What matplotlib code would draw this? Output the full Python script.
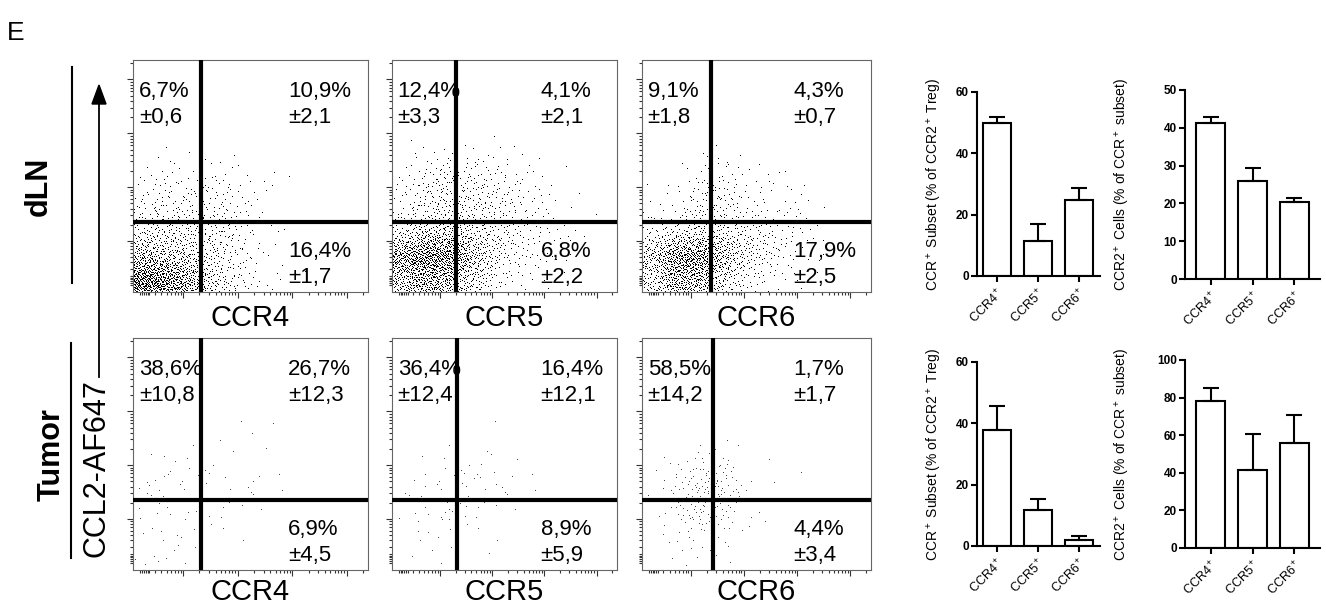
"""
Panel E: CCL2-AF647 binding vs CCR4/CCR5/CCR6 on Treg (dLN and tumor),
plus bar charts of the CCR+ subsets.
"""
import matplotlib
matplotlib.use('Agg')
import matplotlib.pyplot as plt
import numpy as np
from matplotlib.patches import Polygon

plt.rcParams['font.family'] = ['Liberation Sans', 'DejaVu Sans']
plt.rcParams['mathtext.default'] = 'regular'

FIG_W, FIG_H = 1326, 616

# --- flow data: dot counts per 0.1 x 0.1 cell (rows top -> bottom) ---
MARKERS = ["CCR4", "CCR5", "CCR6"]

DLN_CCR4_DOTS = [
    [0, 0, 0, 0, 0, 0, 0, 0, 0, 0],
    [0, 0, 0, 0, 0, 0, 0, 0, 0, 0],
    [0, 0, 0, 0, 0, 0, 0, 0, 0, 0],
    [0, 0, 0, 0, 0, 0, 0, 0, 0, 0],
    [2, 3, 4, 3, 2, 1, 0, 0, 0, 0],
    [10, 14, 16, 14, 9, 3, 1, 0, 0, 0],
    [22, 26, 26, 22, 14, 4, 1, 0, 0, 0],
    [45, 48, 42, 36, 16, 4, 1, 0, 0, 0],
    [120, 100, 70, 45, 18, 5, 2, 1, 0, 0],
    [300, 230, 130, 60, 20, 5, 1, 0, 0, 0],
]
DLN_CCR5_DOTS = [
    [0, 0, 0, 0, 0, 0, 0, 0, 0, 0],
    [0, 0, 0, 0, 0, 0, 0, 0, 0, 0],
    [0, 0, 0, 0, 0, 0, 0, 0, 0, 0],
    [0, 1, 1, 2, 1, 0, 0, 0, 0, 0],
    [3, 8, 14, 14, 8, 5, 2, 1, 0, 0],
    [10, 28, 40, 30, 22, 14, 6, 2, 1, 0],
    [14, 30, 40, 34, 26, 16, 10, 4, 1, 0],
    [45, 80, 85, 60, 36, 22, 14, 8, 2, 0],
    [180, 250, 230, 110, 45, 20, 10, 4, 0, 0],
    [110, 150, 130, 60, 20, 6, 2, 1, 0, 0],
]
DLN_CCR6_DOTS = [
    [0, 0, 0, 0, 0, 0, 0, 0, 0, 0],
    [0, 0, 0, 0, 0, 0, 0, 0, 0, 0],
    [0, 0, 0, 0, 0, 0, 0, 0, 0, 0],
    [0, 0, 0, 1, 0, 0, 0, 0, 0, 0],
    [0, 1, 5, 7, 3, 1, 1, 0, 0, 0],
    [1, 4, 20, 24, 7, 5, 4, 2, 0, 0],
    [3, 8, 26, 30, 12, 9, 7, 5, 0, 0],
    [22, 45, 60, 52, 32, 22, 12, 4, 0, 0],
    [90, 210, 220, 110, 50, 28, 14, 4, 0, 0],
    [60, 140, 130, 55, 20, 8, 3, 1, 0, 0],
]
TUMOR_CCR4_DOTS = [
    [0, 0, 0, 0, 0, 0, 0, 0, 0, 0],
    [0, 0, 0, 0, 0, 0, 0, 0, 0, 0],
    [0, 0, 0, 0, 0, 0, 0, 0, 0, 0],
    [0, 0, 0, 0, 1, 0, 0, 0, 0, 0],
    [0, 0, 0, 0, 1, 1, 0, 0, 0, 0],
    [2, 3, 3, 1, 1, 2, 0, 0, 0, 0],
    [5, 6, 5, 3, 4, 3, 0, 0, 0, 0],
    [3, 4, 3, 3, 3, 1, 0, 0, 0, 0],
    [3, 3, 3, 1, 1, 0, 0, 0, 0, 0],
    [4, 2, 2, 0, 0, 0, 0, 0, 0, 0],
]
TUMOR_CCR5_DOTS = [
    [0, 0, 0, 0, 0, 0, 0, 0, 0, 0],
    [0, 0, 0, 0, 0, 0, 0, 0, 0, 0],
    [0, 0, 0, 0, 0, 0, 0, 0, 0, 0],
    [0, 0, 0, 0, 1, 0, 0, 0, 0, 0],
    [0, 0, 0, 0, 0, 0, 0, 0, 0, 0],
    [0, 1, 2, 3, 3, 1, 0, 0, 0, 0],
    [1, 4, 6, 7, 5, 2, 1, 0, 0, 0],
    [2, 5, 5, 4, 2, 2, 0, 0, 0, 0],
    [2, 3, 3, 0, 1, 0, 0, 0, 0, 0],
    [1, 1, 1, 1, 0, 0, 0, 0, 0, 0],
]
TUMOR_CCR6_DOTS = [
    [0, 0, 0, 0, 0, 0, 0, 0, 0, 0],
    [0, 0, 0, 0, 0, 0, 0, 0, 0, 0],
    [0, 0, 0, 0, 0, 0, 0, 0, 0, 0],
    [0, 0, 0, 0, 0, 0, 0, 0, 0, 0],
    [0, 0, 1, 1, 0, 0, 0, 0, 0, 0],
    [0, 4, 12, 12, 1, 0, 1, 0, 0, 0],
    [2, 14, 30, 28, 2, 2, 0, 0, 0, 0],
    [1, 10, 25, 20, 1, 1, 0, 0, 0, 0],
    [0, 4, 10, 8, 1, 1, 0, 0, 0, 0],
    [0, 1, 3, 2, 0, 0, 0, 0, 0, 0],
]

# quadrant gates (axes fraction)
DLN_GATE_X = [0.29, 0.285, 0.30]
DLN_GATE_Y = [0.30, 0.30, 0.30]
TUMOR_GATE_X = [0.29, 0.29, 0.31]
TUMOR_GATE_Y = [0.30, 0.30, 0.30]

# quadrant statistics: (percent, sd)
DLN_UL = [("6,7%", "±0,6"), ("12,4%", "±3,3"), ("9,1%", "±1,8")]
DLN_UR = [("10,9%", "±2,1"), ("4,1%", "±2,1"), ("4,3%", "±0,7")]
DLN_LR = [("16,4%", "±1,7"), ("6,8%", "±2,2"), ("17,9%", "±2,5")]
TUMOR_UL = [("38,6%", "±10,8"), ("36,4%", "±12,4"), ("58,5%", "±14,2")]
TUMOR_UR = [("26,7%", "±12,3"), ("16,4%", "±12,1"), ("1,7%", "±1,7")]
TUMOR_LR = [("6,9%", "±4,5"), ("8,9%", "±5,9"), ("4,4%", "±3,4")]

# --- bar chart data ---
BAR_LABELS = ["CCR4$^+$", "CCR5$^+$", "CCR6$^+$"]
DLN_SUBSET = [49.8, 11.3, 24.8]
DLN_SUBSET_SEM = [2.2, 5.5, 3.9]
DLN_CCR2 = [41.2, 25.8, 20.3]
DLN_CCR2_SEM = [1.7, 3.5, 1.1]
TUMOR_SUBSET = [37.7, 11.9, 2.0]
TUMOR_SUBSET_SEM = [7.9, 3.5, 1.3]
TUMOR_CCR2 = [78.4, 41.3, 56.1]
TUMOR_CCR2_SEM = [6.5, 19.5, 14.5]
SUBSET_YLABEL = "CCR$^+$ Subset (% of CCR2$^+$ Treg)"
CCR2_YLABEL = "CCR2$^+$ Cells (% of CCR$^+$ subset)"

# log-like axis ticks of the cytometer plots
DECADE = 0.232
X_DECADES = [0.213 + DECADE * k for k in range(4)]
Y_DECADES = [0.220 + DECADE * k for k in range(4)]
ORIGIN_TICKS = [0.03, 0.038, 0.046, 0.054, 0.062, 0.07]


def px_rect(left, top, right, bottom):
    """Прямоугольник в пикселях -> координаты фигуры."""
    return [left / FIG_W, 1 - bottom / FIG_H,
            (right - left) / FIG_W, (bottom - top) / FIG_H]


def halton(n, base):
    """First n terms (from index 1) of the van der Corput sequence."""
    idx = np.arange(1, n + 1)
    out = np.zeros(n)
    f = 1.0
    while idx.any():
        f /= base
        out += f * (idx % base)
        idx //= base
    return out


def grid_to_points(grid):
    """Thin an even quasi-grid of candidates down to the cell densities.

    Density between cell centres is interpolated bilinearly so cell
    edges do not show as steps.
    """
    g = np.asarray(grid, dtype=float)
    n_rows, n_cols = g.shape
    peak = g.max()
    m = int(peak * n_rows * n_cols)
    u, v, w = halton(m, 2), halton(m, 3), halton(m, 5)

    cx = np.clip(u * n_cols - 0.5, 0, n_cols - 1)
    cy = np.clip((1 - v) * n_rows - 0.5, 0, n_rows - 1)
    c0 = np.minimum(cx.astype(int), n_cols - 2)
    r0 = np.minimum(cy.astype(int), n_rows - 2)
    fx, fy = cx - c0, cy - r0
    dens = (g[r0, c0] * (1 - fx) * (1 - fy) + g[r0, c0 + 1] * fx * (1 - fy)
            + g[r0 + 1, c0] * (1 - fx) * fy + g[r0 + 1, c0 + 1] * fx * fy)
    keep = w < dens / peak
    return u[keep], v[keep]


def minor_positions(decades, extra):
    out = list(extra)
    for d in [decades[0] - DECADE] + decades:
        for m in range(2, 10):
            p = d + np.log10(m) * DECADE
            if 0.08 < p < 1:
                out.append(p)
    return out


def draw_flow(ax, grid, gx, gy, ul, ur, lr, marker, dot_color, label_off):
    xs, ys = grid_to_points(grid)
    ax.plot(xs, ys, linestyle='none', marker=',', color=dot_color, zorder=1)
    ax.set_xlim(0, 1)
    ax.set_ylim(0, 1)
    ax.axvline(gx, color='black', lw=3, zorder=3)
    ax.axhline(gy, color='black', lw=3, zorder=3)

    ax.set_xticks(X_DECADES)
    ax.set_yticks(Y_DECADES)
    ax.set_xticks(minor_positions(X_DECADES, ORIGIN_TICKS), minor=True)
    ax.set_yticks(minor_positions(Y_DECADES, ORIGIN_TICKS), minor=True)
    ax.tick_params(which='both', direction='out', colors='#333', width=0.8,
                   labelbottom=False, labelleft=False)
    ax.tick_params(which='major', length=4)
    ax.tick_params(which='minor', length=2.2)
    for sp in ax.spines.values():
        sp.set_color('#666')
        sp.set_linewidth(0.8)

    kw = dict(transform=ax.transAxes, fontsize=16, va='baseline', zorder=4)
    ax.text(0.025, 0.84, ul[0], ha='left', **kw)
    ax.text(0.025, 0.728, ul[1], ha='left', **kw)
    ax.text(0.66, 0.84, ur[0], ha='left', **kw)
    ax.text(0.66, 0.728, ur[1], ha='left', **kw)
    ax.text(0.66, 0.151, lr[0], ha='left', **kw)
    ax.text(0.66, 0.04, lr[1], ha='left', **kw)
    ax.text(0.5, label_off, marker, transform=ax.transAxes, fontsize=21,
            ha='center', va='center')


def draw_bars(ax, values, errors, ymax, ystep, ylabel, label_x, xlim, width):
    x = np.arange(len(values))
    ax.bar(x, values, width=width, color='white', edgecolor='black',
           linewidth=1.5, zorder=2)
    ax.errorbar(x, values, yerr=[np.zeros(len(errors)), errors], fmt='none',
                ecolor='black', elinewidth=1.5, capsize=6, capthick=1.5,
                zorder=3)
    ax.set_xlim(*xlim)
    ax.set_ylim(0, ymax)
    ax.set_yticks(np.arange(0, ymax + 1, ystep))
    ax.set_xticks(x)
    ax.set_xticklabels(BAR_LABELS, rotation=45, ha='right',
                       rotation_mode='anchor', fontsize=9)
    ax.tick_params(axis='y', labelsize=8.5, width=1.5, length=4, pad=2)
    ax.tick_params(axis='x', width=1.5, length=4, pad=3)
    for lbl in ax.get_yticklabels():
        lbl.set_fontweight('bold')
    for side in ('top', 'right'):
        ax.spines[side].set_visible(False)
    for side in ('left', 'bottom'):
        ax.spines[side].set_linewidth(1.5)
    ax.set_ylabel(ylabel, fontsize=10)
    ax.yaxis.set_label_coords(label_x, 0.5)


fig = plt.figure(figsize=(FIG_W / 100, FIG_H / 100), dpi=100)

# Декорации в пиксельных координатах
deco = fig.add_axes([0, 0, 1, 1], zorder=0)
deco.set_xlim(0, FIG_W)
deco.set_ylim(FIG_H, 0)
deco.axis('off')
deco.text(7, 33, "E", fontsize=19, ha='left', va='center')
deco.text(39, 186, "dLN", fontsize=22, fontweight='bold', rotation=90,
          ha='center', va='center')
deco.plot([72, 72], [67, 283], color='black', lw=1.5)
deco.text(52, 455, "Tumor", fontsize=22, fontweight='bold', rotation=90,
          ha='center', va='center')
deco.plot([71, 71], [343, 558], color='black', lw=1.5)
deco.text(97, 468, "CCL2-AF647", fontsize=22, rotation=90,
          ha='center', va='center')
deco.plot([99, 99], [377, 100], color='black', lw=1.3)
deco.add_patch(Polygon([(92, 104), (106, 104), (99, 85)], closed=True,
                       color='black'))

# Flow panels
lefts = [133, 392, 642]
rights = [368, 617, 871]
dln_grids = [DLN_CCR4_DOTS, DLN_CCR5_DOTS, DLN_CCR6_DOTS]
tumor_grids = [TUMOR_CCR4_DOTS, TUMOR_CCR5_DOTS, TUMOR_CCR6_DOTS]
for i in range(3):
    ax = fig.add_axes(px_rect(lefts[i], 60, rights[i], 292))
    draw_flow(ax, dln_grids[i], DLN_GATE_X[i], DLN_GATE_Y[i],
              DLN_UL[i], DLN_UR[i], DLN_LR[i], MARKERS[i], 'black', -0.112)
    ax = fig.add_axes(px_rect(lefts[i], 338, rights[i], 570))
    draw_flow(ax, tumor_grids[i], TUMOR_GATE_X[i], TUMOR_GATE_Y[i],
              TUMOR_UL[i], TUMOR_UR[i], TUMOR_LR[i], MARKERS[i], '#444', -0.095)

# Bar charts
ax = fig.add_axes(px_rect(977, 92, 1100, 276))
draw_bars(ax, DLN_SUBSET, DLN_SUBSET_SEM, 60, 20, SUBSET_YLABEL, -0.27,
          (-0.49, 2.51), 0.68)
ax = fig.add_axes(px_rect(1185, 90, 1320, 279))
draw_bars(ax, DLN_CCR2, DLN_CCR2_SEM, 50, 10, CCR2_YLABEL, -0.39,
          (-0.61, 2.61), 0.69)
ax = fig.add_axes(px_rect(977, 362, 1100, 546))
draw_bars(ax, TUMOR_SUBSET, TUMOR_SUBSET_SEM, 60, 20, SUBSET_YLABEL, -0.27,
          (-0.49, 2.51), 0.68)
ax = fig.add_axes(px_rect(1185, 360, 1320, 548))
draw_bars(ax, TUMOR_CCR2, TUMOR_CCR2_SEM, 100, 20, CCR2_YLABEL, -0.39,
          (-0.61, 2.61), 0.69)

fig.savefig('out.png', dpi=100)
plt.close(fig)
